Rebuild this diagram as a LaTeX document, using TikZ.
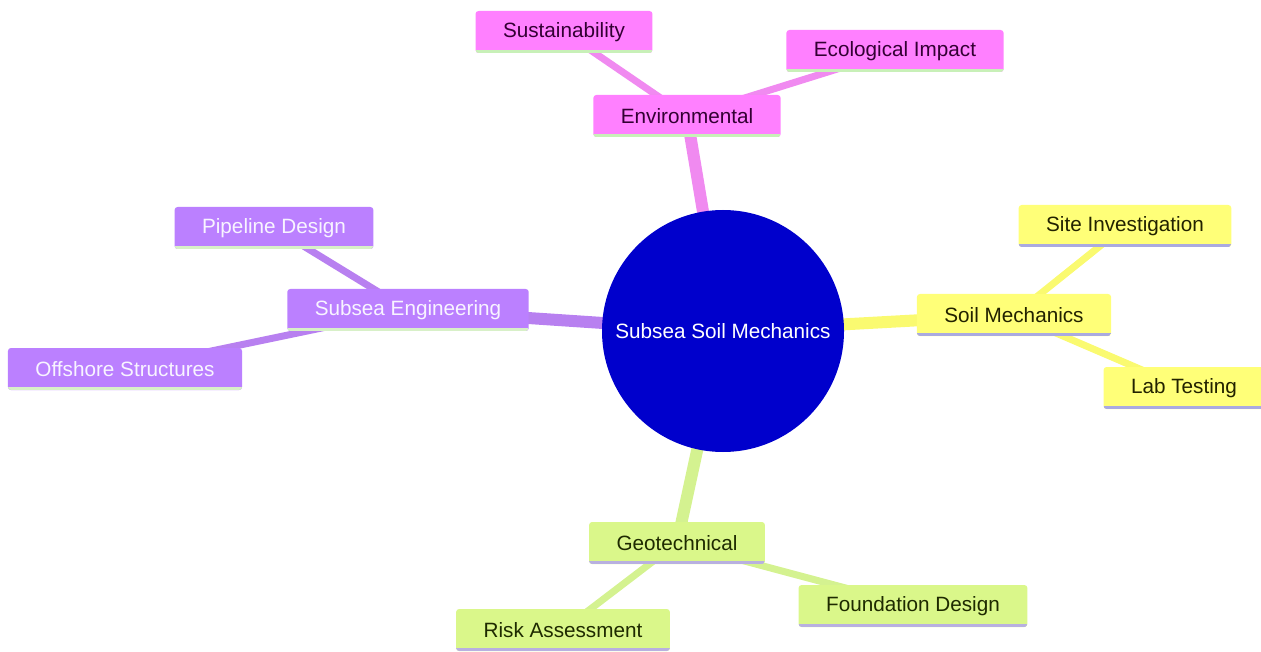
\documentclass[tikz,border=0pt]{standalone}
\usepackage{fontspec}
\setmainfont{Liberation Sans}
\usetikzlibrary{backgrounds}

\definecolor{rootfill}{HTML}{0000CC}
\definecolor{envfill}{HTML}{FF80FF}
\definecolor{envedge}{HTML}{F08AF0}
\definecolor{envtext}{HTML}{330033}
\definecolor{envline}{HTML}{C8F0B8}
\definecolor{soilfill}{HTML}{FFFF78}
\definecolor{soiledge}{HTML}{FAFA70}
\definecolor{soiltext}{HTML}{222200}
\definecolor{soilline}{HTML}{AAAAE0}
\definecolor{subfill}{HTML}{BB80FF}
\definecolor{subedge}{HTML}{B880F0}
\definecolor{subtext}{HTML}{F8F4FF}
\definecolor{subline}{HTML}{D8F0C8}
\definecolor{geofill}{HTML}{DAF78A}
\definecolor{geoedge}{HTML}{D4F290}
\definecolor{geotext}{HTML}{1E2A00}
\definecolor{geoline}{HTML}{B8B0E0}

\tikzset{
  topic/.style={rounded corners=3pt, minimum height=42pt, inner xsep=27.5pt,
    font=\fontsize{20.7}{24}\selectfont},
  underline/.style={path picture={\draw[line width=3pt, #1]
    ([yshift=1.5pt]path picture bounding box.south west) --
    ([yshift=1.5pt]path picture bounding box.south east);}},
  envbox/.style={topic, fill=envfill, text=envtext, underline=envline},
  soilbox/.style={topic, fill=soilfill, text=soiltext, underline=soilline},
  subbox/.style={topic, fill=subfill, text=subtext, underline=subline},
  geobox/.style={topic, fill=geofill, text=geotext, underline=geoline},
  trunk/.style={line width=12pt, draw=#1},
  twig/.style={line width=7pt, draw=#1},
}

\begin{document}
\begin{tikzpicture}[x=1pt, y=-1pt]
	\useasboundingbox (0, 0) rectangle (1261, 652);

	\node[circle, fill=rootfill, text=white, minimum size=242pt, inner sep=0pt,
		font=\fontsize{20.7}{24}\selectfont] (root) at (723, 331) {Subsea Soil Mechanics};

	\node[envbox] (env) at (687, 116) {Environmental};
	\node[envbox] (sust) at (564, 32) {Sustainability};
	\node[envbox] (eco) at (895, 51) {Ecological Impact};

	\node[soilbox] (soil) at (1014, 315) {Soil Mechanics};
	\node[soilbox] (site) at (1125, 226) {Site Investigation};
	\node[soilbox] (lab) at (1184, 388) {Lab Testing};

	\node[subbox] (subeng) at (408, 310) {Subsea Engineering};
	\node[subbox] (pipe) at (274, 228) {Pipeline Design};
	\node[subbox] (off) at (125, 369) {Offshore Structures};

	\node[geobox] (geo) at (677, 543) {Geotechnical};
	\node[geobox] (risk) at (563, 630) {Risk Assessment};
	\node[geobox] (found) at (913, 606) {Foundation Design};

	\begin{scope}[on background layer]
		\draw[trunk=envedge] (root.center) -- (env.center);
		\draw[trunk=soiledge] (root.center) -- (soil.center);
		\draw[trunk=subedge] (root.center) -- (subeng.center);
		\draw[trunk=geoedge] (root.center) -- (geo.center);

		\draw[twig=envedge] (env.center) -- (sust.center);
		\draw[twig=envedge] (env.center) -- (eco.center);
		\draw[twig=soiledge] (soil.center) -- (site.center);
		\draw[twig=soiledge] (soil.center) -- (lab.center);
		\draw[twig=subedge] (subeng.center) -- (pipe.center);
		\draw[twig=subedge] (subeng.center) -- (off.center);
		\draw[twig=geoedge] (geo.center) -- (risk.center);
		\draw[twig=geoedge] (geo.center) -- (found.center);
	\end{scope}
\end{tikzpicture}
\end{document}
